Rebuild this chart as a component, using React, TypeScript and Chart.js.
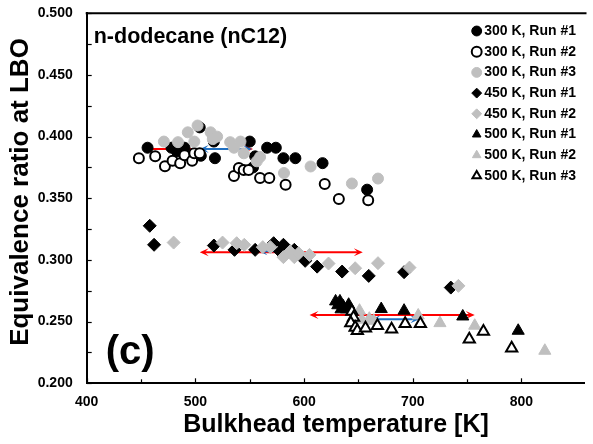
import React, { useEffect, useRef } from 'react';
import { Chart, registerables } from 'chart.js';

Chart.register(...registerables);

// ---------------- data ----------------
const seriesLabels = [
  '300 K, Run #1',
  '300 K, Run #2',
  '300 K, Run #3',
  '450 K, Run #1',
  '450 K, Run #2',
  '500 K, Run #1',
  '500 K, Run #2',
  '500 K, Run #3',
];

const t300r1X = [456, 478, 483, 490, 504, 505, 517, 518, 550, 553, 555, 566, 574, 581, 592, 617, 658];
const t300r1Y = [0.391, 0.391, 0.388, 0.391, 0.4075, 0.3845, 0.396, 0.3825, 0.396, 0.375, 0.384, 0.391, 0.391, 0.3825, 0.3825, 0.3785, 0.357];

const t300r2X = [448, 463, 472, 479, 486, 490, 497, 499, 504, 535.5, 540, 544.5, 549, 559.5, 568, 583, 619, 632, 659];
const t300r2Y = [0.3825, 0.384, 0.376, 0.3805, 0.3785, 0.385, 0.3805, 0.3865, 0.3865, 0.368, 0.3745, 0.373, 0.373, 0.3665, 0.3665, 0.361, 0.3615, 0.3495, 0.3485];

const t300r3X = [471, 484, 493, 502, 499, 514, 520, 516, 532, 541.5, 535.5, 544.5, 556.5, 559.5, 581.5, 606, 644, 668];
const t300r3Y = [0.396, 0.3955, 0.4035, 0.409, 0.396, 0.4035, 0.4, 0.398, 0.3955, 0.396, 0.391, 0.3865, 0.38, 0.3835, 0.3705, 0.3758, 0.362, 0.366];

const t450r1X = [458, 462, 517, 536, 555, 572, 581, 578, 591, 601, 612, 635, 659.5, 692, 735];
const t450r1Y = [0.3277, 0.3123, 0.3117, 0.3082, 0.3082, 0.3136, 0.3123, 0.3068, 0.3082, 0.2993, 0.2946, 0.2906, 0.2871, 0.2901, 0.2776];

const t450r2X = [480, 525, 538, 545, 562, 569, 581, 587, 591, 595, 605, 622.5, 647, 668, 697, 742];
const t450r2Y = [0.3141, 0.3141, 0.3136, 0.3123, 0.3104, 0.3104, 0.3023, 0.3068, 0.3023, 0.3055, 0.3041, 0.2971, 0.2933, 0.2974, 0.2938, 0.279];

const t500r1X = [629, 633, 631, 636, 641, 634, 639, 671, 692, 746, 797];
const t500r1Y = [0.2664, 0.2664, 0.2633, 0.2624, 0.2637, 0.26, 0.26, 0.2602, 0.2589, 0.2542, 0.2426];

const t500r2X = [651, 653, 660, 664, 705, 725, 757, 821.5];
const t500r2Y = [0.2589, 0.2516, 0.2524, 0.2507, 0.255, 0.2488, 0.2467, 0.2264];

const t500r3X = [644, 645.5, 643, 647, 649, 656.5, 667.5, 680.5, 693, 707, 752, 765, 791];
const t500r3Y = [0.2583, 0.2534, 0.2488, 0.2453, 0.2426, 0.2447, 0.2467, 0.2439, 0.2483, 0.2483, 0.2358, 0.2421, 0.2285];

// range arrows (K, equivalence ratio)
const arrowFrom = [453, 504, 504, 558, 605, 662];
const arrowTo = [553, 552, 654, 600, 757, 706];
const arrowAt = [0.39, 0.39, 0.3063, 0.307, 0.2554, 0.2519];
const arrowKind = ['red', 'blue', 'red', 'blue', 'red', 'blue'];

const xTicksMin = 400;
const xTicksMax = 858;
const yTicksMin = 0.2;
const yTicksMax = 0.5;

const panelTitle = 'n-dodecane (nC12)';
const panelTag = '(c)';
const xTitle = 'Bulkhead temperature [K]';
const yTitle = 'Equivalence ratio at LBO';

// ---------------- styles ----------------
const FONT = '"Liberation Sans", Arial, Helvetica, sans-serif';
const GREY = '#bfbfbf';
const ARROW_COLORS: Record<string, string> = { red: '#ff0000', blue: '#1f6fc0' };

const seriesStyles = [
  { pointStyle: 'circle', pointRadius: 5.5, backgroundColor: '#000', borderColor: '#000', borderWidth: 1 },
  { pointStyle: 'circle', pointRadius: 5, backgroundColor: '#fff', borderColor: '#000', borderWidth: 2 },
  { pointStyle: 'circle', pointRadius: 5.5, backgroundColor: GREY, borderColor: GREY, borderWidth: 1 },
  { pointStyle: 'rectRot', pointRadius: 6.5, backgroundColor: '#000', borderColor: '#000', borderWidth: 1 },
  { pointStyle: 'rectRot', pointRadius: 6.5, backgroundColor: GREY, borderColor: GREY, borderWidth: 1 },
  { pointStyle: 'triangle', pointRadius: 7, backgroundColor: '#000', borderColor: '#000', borderWidth: 1 },
  { pointStyle: 'triangle', pointRadius: 7, backgroundColor: GREY, borderColor: GREY, borderWidth: 1 },
  { pointStyle: 'triangle', pointRadius: 6.5, backgroundColor: '#fff', borderColor: '#000', borderWidth: 2 },
];

const seriesX = [t300r1X, t300r2X, t300r3X, t450r1X, t450r2X, t500r1X, t500r2X, t500r3X];
const seriesY = [t300r1Y, t300r2Y, t300r3Y, t450r1Y, t450r2Y, t500r1Y, t500r2Y, t500r3Y];

// ---------------- plugins ----------------
const arrowsPlugin = {
  id: 'rangeArrows',
  beforeDatasetsDraw(chart: any) {
    const { ctx, chartArea, scales } = chart;
    ctx.save();
    ctx.beginPath();
    ctx.rect(chartArea.left, chartArea.top, chartArea.right - chartArea.left, chartArea.bottom - chartArea.top);
    ctx.clip();
    arrowFrom.forEach((from, i) => {
      const x1 = scales.x.getPixelForValue(from);
      const x2 = scales.x.getPixelForValue(arrowTo[i]);
      const y = scales.y.getPixelForValue(arrowAt[i]);
      const color = ARROW_COLORS[arrowKind[i]];
      ctx.strokeStyle = color;
      ctx.fillStyle = color;
      ctx.lineWidth = 2;
      ctx.beginPath();
      ctx.moveTo(x1 + 4, y);
      ctx.lineTo(x2 - 4, y);
      ctx.stroke();
      const head = (tip: number, dir: number) => {
        const L = 9, W = 4, N = 5;
        ctx.beginPath();
        ctx.moveTo(tip, y);
        ctx.lineTo(tip - dir * L, y - W);
        ctx.lineTo(tip - dir * N, y);
        ctx.lineTo(tip - dir * L, y + W);
        ctx.closePath();
        ctx.fill();
      };
      head(x1, -1);
      head(x2, 1);
    });
    ctx.restore();
  },
};

const frameTicksPlugin = {
  id: 'frameTicks',
  afterDraw(chart: any) {
    const { ctx, chartArea, scales } = chart;
    ctx.save();
    ctx.strokeStyle = '#000';
    ctx.lineWidth = 2;
    ctx.beginPath();
    ctx.moveTo(chartArea.left - 1, chartArea.top);
    ctx.lineTo(chartArea.right + 2, chartArea.top);
    ctx.stroke();
    ctx.lineWidth = 1.2;
    scales.y.ticks.forEach((t: any) => {
      const y = Math.round(scales.y.getPixelForValue(t.value)) + 0.5;
      ctx.beginPath();
      ctx.moveTo(chartArea.left, y);
      ctx.lineTo(chartArea.left + 5, y);
      ctx.stroke();
    });
    scales.x.ticks.forEach((t: any) => {
      if (Math.abs(t.value % 50) > 1e-6) return;
      const major = Math.abs(t.value % 100) < 1e-6;
      const x = Math.round(scales.x.getPixelForValue(t.value)) + 0.5;
      ctx.beginPath();
      ctx.moveTo(x, chartArea.bottom);
      ctx.lineTo(x, chartArea.bottom - (major ? 5 : 4));
      ctx.stroke();
    });
    ctx.restore();
  },
};

const annotationsPlugin = {
  id: 'panelText',
  afterDraw(chart: any) {
    const { ctx, chartArea } = chart;
    ctx.save();
    ctx.fillStyle = '#000';
    ctx.textAlign = 'left';
    ctx.textBaseline = 'middle';
    ctx.font = `bold 21.5px ${FONT}`;
    ctx.fillText(panelTitle, chartArea.left + 7, chartArea.top + 24);
    ctx.font = `bold 40px ${FONT}`;
    ctx.fillText(panelTag, chartArea.left + 19, chartArea.bottom - 30);

    // axis titles
    ctx.textAlign = 'center';
    ctx.font = `bold 25px ${FONT}`;
    ctx.fillText(xTitle, 336, 425);
    ctx.save();
    ctx.translate(21, 192);
    ctx.rotate(-Math.PI / 2);
    ctx.font = `bold 26px ${FONT}`;
    ctx.fillText(yTitle, 0, 0);
    ctx.restore();
    ctx.restore();
  },
};

const legendPlacePlugin = {
  id: 'legendPlace',
  afterLayout(chart: any) {
    const lg = chart.legend;
    if (!lg) return;
    const w = lg.width;
    const h = lg.height;
    lg.left = 469.5;
    lg.top = 17.3;
    lg.right = lg.left + w;
    lg.bottom = lg.top + h;
  },
};

export default function App() {
  const ref = useRef<HTMLCanvasElement | null>(null);

  useEffect(() => {
    document.body.style.margin = '0';
    const canvas = ref.current;
    if (!canvas) return;

    const datasets = seriesLabels.map((label, i) => ({
      label,
      data: seriesX[i].map((x, j) => ({ x, y: seriesY[i][j] })),
      showLine: false,
      order: seriesLabels.length - 1 - i,
      ...seriesStyles[i],
      pointHoverRadius: seriesStyles[i].pointRadius,
    }));

    const tickFont = { family: FONT, size: 14, weight: 'bold' as const };

    const chart = new Chart(canvas, {
      type: 'scatter',
      data: { datasets: datasets as any },
      options: {
        animation: false,
        responsive: false,
        devicePixelRatio: 1,
        layout: { padding: { top: 13.3, left: 0, right: 0, bottom: 0 } },
        scales: {
          x: {
            type: 'linear',
            min: xTicksMin,
            max: xTicksMax,
            grid: { display: false, drawTicks: true, tickLength: 10 },
            border: { display: true, color: '#000', width: 2 },
            ticks: {
              stepSize: 50,
              autoSkip: false,
              maxRotation: 0,
              padding: 0,
              color: '#000',
              font: tickFont,
              callback: (v: any) => (Math.abs(Number(v) % 100) < 1e-6 ? String(v) : ''),
            },
            title: { display: false },
            afterFit: (s: any) => { s.height = 60.7; },
          },
          y: {
            type: 'linear',
            min: yTicksMin,
            max: yTicksMax,
            grid: { display: false, drawTicks: true, tickLength: 14 },
            border: { display: true, color: '#000', width: 2 },
            ticks: {
              stepSize: 0.025,
              autoSkip: false,
              padding: 0,
              color: '#000',
              font: tickFont,
              callback: (v: any) => {
                const n = Number(v) * 20;
                return Math.abs(n - Math.round(n)) < 1e-6 ? Number(v).toFixed(3) : '';
              },
            },
            title: { display: false },
            afterFit: (s: any) => { s.width = 86.7; },
          },
        },
        plugins: {
          tooltip: { enabled: false },
          legend: {
            display: true,
            position: 'chartArea' as any,
            align: 'start',
            labels: {
              usePointStyle: true,
              boxWidth: 1,
              boxHeight: 7,
              padding: 6.7,
              color: '#000',
              font: { family: FONT, size: 14, weight: 'bold' },
              sort: (a: any, b: any) => a.datasetIndex - b.datasetIndex,
            },
          },
        },
      } as any,
      plugins: [arrowsPlugin, frameTicksPlugin, annotationsPlugin, legendPlacePlugin],
    });

    return () => chart.destroy();
  }, []);

  return (
    <div style={{ width: 593, height: 444, position: 'relative' }}>
      <canvas ref={ref} width={593} height={444} style={{ display: 'block' }} />
    </div>
  );
}
